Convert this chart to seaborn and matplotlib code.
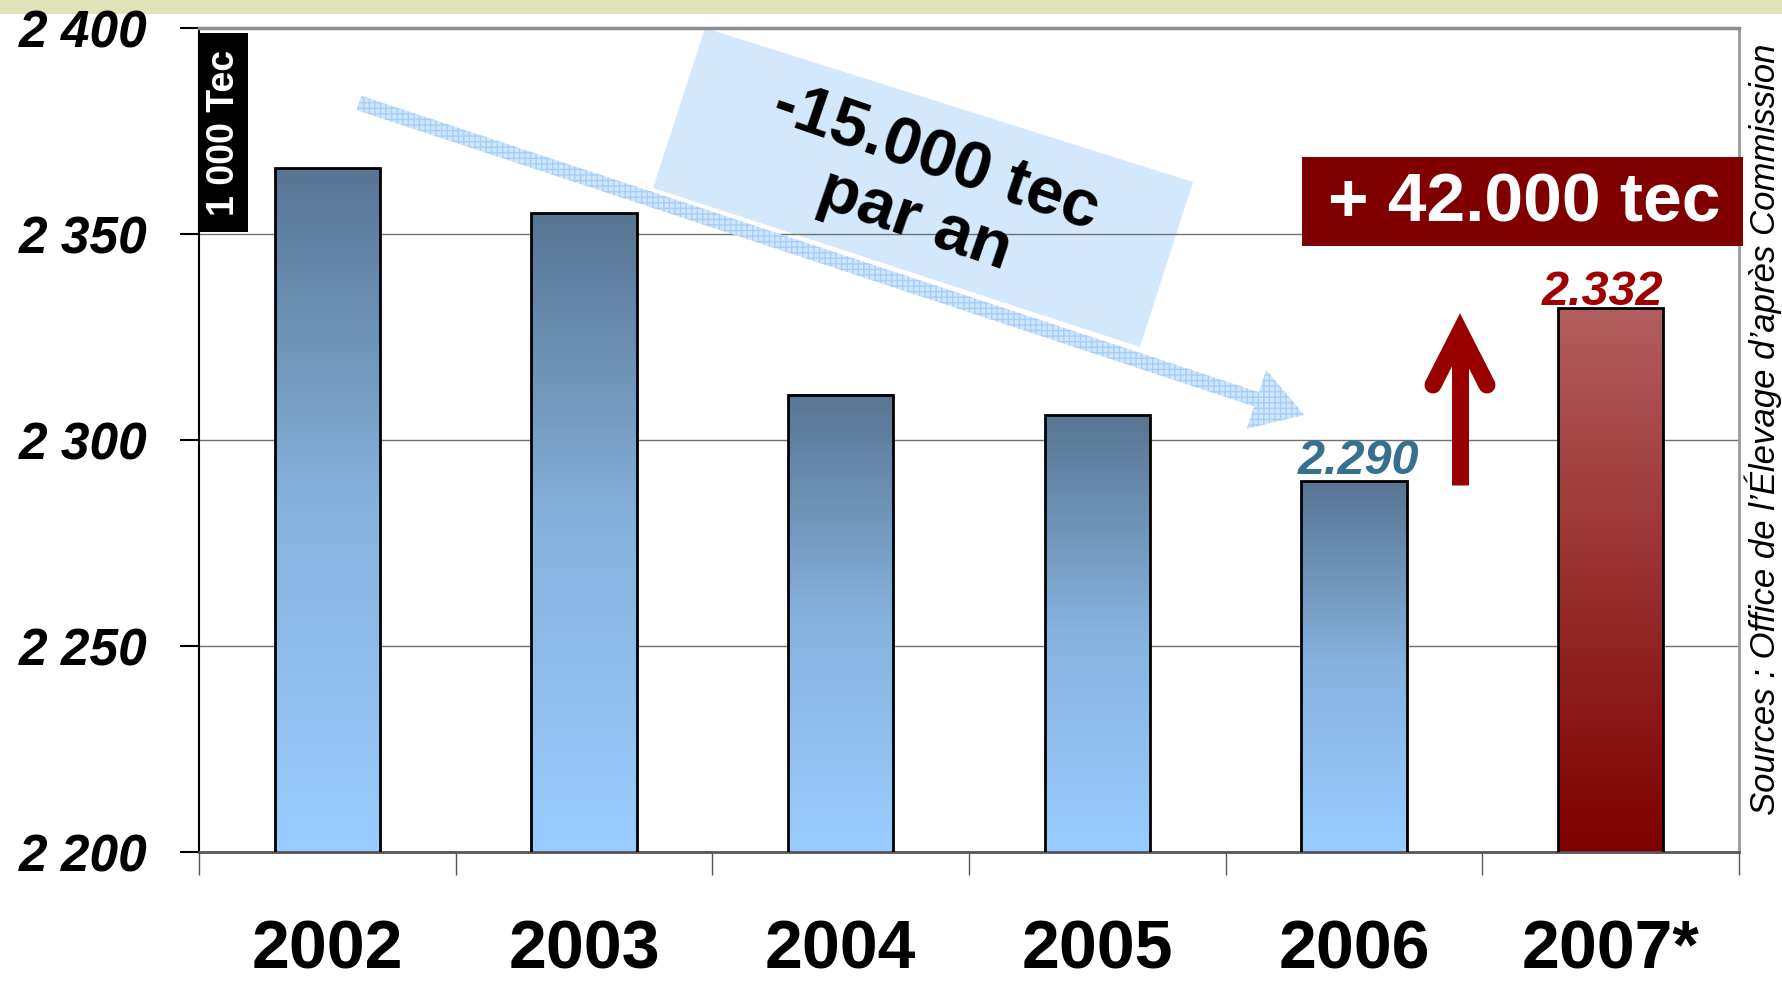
import numpy as np
import pandas as pd
import matplotlib.pyplot as plt
import seaborn as sns
from matplotlib.patches import Polygon, FancyArrow, Rectangle
from matplotlib.lines import Line2D
from matplotlib.colors import LinearSegmentedColormap

# production, 1 000 tec
years = ['2002', '2003', '2004', '2005', '2006', '2007*']
production = [2366, 2355, 2311, 2306, 2290, 2332]
y_ticks = [2200, 2250, 2300, 2350, 2400]
y_labels = ['2 200', '2 250', '2 300', '2 350', '2 400']

sns.set_theme(style='white')
plt.rcParams['font.family'] = ['Liberation Sans', 'DejaVu Sans']

W, H = 1782, 985
fig = plt.figure(figsize=(W / 100, H / 100), dpi=100)
inch = fig.dpi_scale_trans


def px(x, y):
    # image pixel coords (origin top-left) -> inches
    return (x / 100, (H - y) / 100)


ax = fig.add_axes([199 / W, 1 - 852 / H, (1739 - 199) / W, (852 - 28) / H])
ax.patch.set_visible(False)

df = pd.DataFrame({'annee': years, 'tec': production})
sns.barplot(data=df, x='annee', y='tec', width=0.41, ax=ax, color='white',
            edgecolor='black', linewidth=2, zorder=3)

blue = LinearSegmentedColormap.from_list('b', ['#99ccff', '#86b3e0', '#587592'])
red = LinearSegmentedColormap.from_list('r', ['#7e0000', '#b25e5e'])
grad = np.linspace(0, 1, 256).reshape(-1, 1)
for i, bar in enumerate(ax.patches):
    x0, w, top = bar.get_x(), bar.get_width(), bar.get_height()
    ax.imshow(grad, extent=(x0, x0 + w, 2200, top), origin='lower', aspect='auto',
              cmap=red if i == len(years) - 1 else blue, zorder=2.5)
    bar.set_facecolor('none')

ax.set_xlim(-0.5, 5.5)
ax.set_ylim(2200, 2400)
ax.set_xlabel('')
ax.set_ylabel('')

ax.set_xticks(range(len(years)))
ax.set_xticklabels(years, fontsize=49, fontweight='bold', color='black')
ax.set_xticks(np.arange(-0.5, len(years), 1), minor=True)
ax.tick_params(axis='x', which='major', length=0, pad=48, labelcolor='black', bottom=True)
ax.tick_params(axis='x', which='minor', length=16.5, width=1, color='#555555',
               direction='out', bottom=True)
ax.set_yticks(y_ticks)
ax.set_yticklabels(y_labels, fontsize=37, fontweight='bold', fontstyle='italic',
                   color='black')
ax.tick_params(axis='y', length=14, width=1.5, color='black', direction='out',
               pad=23, left=True, labelcolor='black')

ax.yaxis.grid(True, color='#707070', linewidth=1)
ax.set_axisbelow(True)
ax.spines['top'].set_color('#8c8c8c')
ax.spines['top'].set_linewidth(2.5)
ax.spines['right'].set_color('#9a9a9a')
ax.spines['right'].set_linewidth(2)
ax.spines['left'].set_color('black')
ax.spines['left'].set_linewidth(1.5)
ax.spines['bottom'].set_color('#555555')
ax.spines['bottom'].set_linewidth(2)

# value labels
ax.annotate('2.290', (4, production[4]), xytext=(3, 5), textcoords='offset points',
            ha='center', va='baseline', fontsize=35, fontweight='bold',
            fontstyle='italic', color='#36708f', zorder=6)
ax.annotate('2.332', (5, production[5]), xytext=(-6, 2), textcoords='offset points',
            ha='center', va='baseline', fontsize=35, fontweight='bold',
            fontstyle='italic', color='#a00000', zorder=6)

# top band
fig.add_artist(Rectangle(px(0, 14), W / 100, 14 / 100, transform=inch,
                         facecolor='#dfe3b7', edgecolor='none', zorder=-2))

# unit box
fig.add_artist(Rectangle(px(199, 232), 49 / 100, 199 / 100, transform=inch,
                         facecolor='black', edgecolor='none', zorder=5))
fig.text(*px(224, 133), '1 000 Tec', transform=inch, rotation=90, ha='center',
         va='center', fontsize=27, fontweight='bold', color='white', zorder=6)

# trend box + arrow
corners = [px(705, 28), px(1193, 182), px(1140, 347), px(653, 188)]
fig.add_artist(Polygon(corners, closed=True, transform=inch, facecolor='#d4e8fc',
                       edgecolor='none', zorder=-1))
fig.text(*px(925, 190), '-15.000 tec\npar an', transform=inch, rotation=-19,
         rotation_mode='anchor', ha='center', va='center', multialignment='center',
         fontsize=48, fontweight='bold', color='black', linespacing=1.1, zorder=6)

t0 = px(359, 103)
t1 = px(1304, 415)
fig.add_artist(FancyArrow(t0[0], t0[1], t1[0] - t0[0], t1[1] - t0[1], width=0.15,
                          head_width=0.62, head_length=0.5, length_includes_head=True,
                          transform=inch, facecolor='#cfe5fc', edgecolor='#a6cff7',
                          linewidth=0, hatch='+++', zorder=5))

# red arrow
lw_pt = 17 * 72 / 100
s0, s1 = px(1460, 485), px(1460, 340)
fig.add_artist(Line2D([s0[0], s1[0]], [s0[1], s1[1]], transform=inch, color='#990000',
                      linewidth=lw_pt, solid_capstyle='butt', zorder=5))
c = [px(1433, 385), px(1460, 332), px(1487, 385)]
fig.add_artist(Line2D([p[0] for p in c], [p[1] for p in c], transform=inch,
                      color='#990000', linewidth=lw_pt, solid_capstyle='round',
                      solid_joinstyle='miter', zorder=5))

# +42.000 box
fig.add_artist(Rectangle(px(1302, 246), 441 / 100, 89 / 100, transform=inch,
                         facecolor='#800000', edgecolor='none', zorder=5))
fig.text(*px(1524, 203), '+ 42.000 tec', transform=inch, ha='center', va='center',
         fontsize=50, fontweight='bold', color='white', zorder=6)

# source
fig.text(*px(1763, 429), "Sources : Office de l’Élevage d’après Commission",
         transform=inch, rotation=90, ha='center', va='center', fontsize=25,
         fontstyle='italic', color='black', zorder=6)

fig.savefig('out.png', dpi=100)
